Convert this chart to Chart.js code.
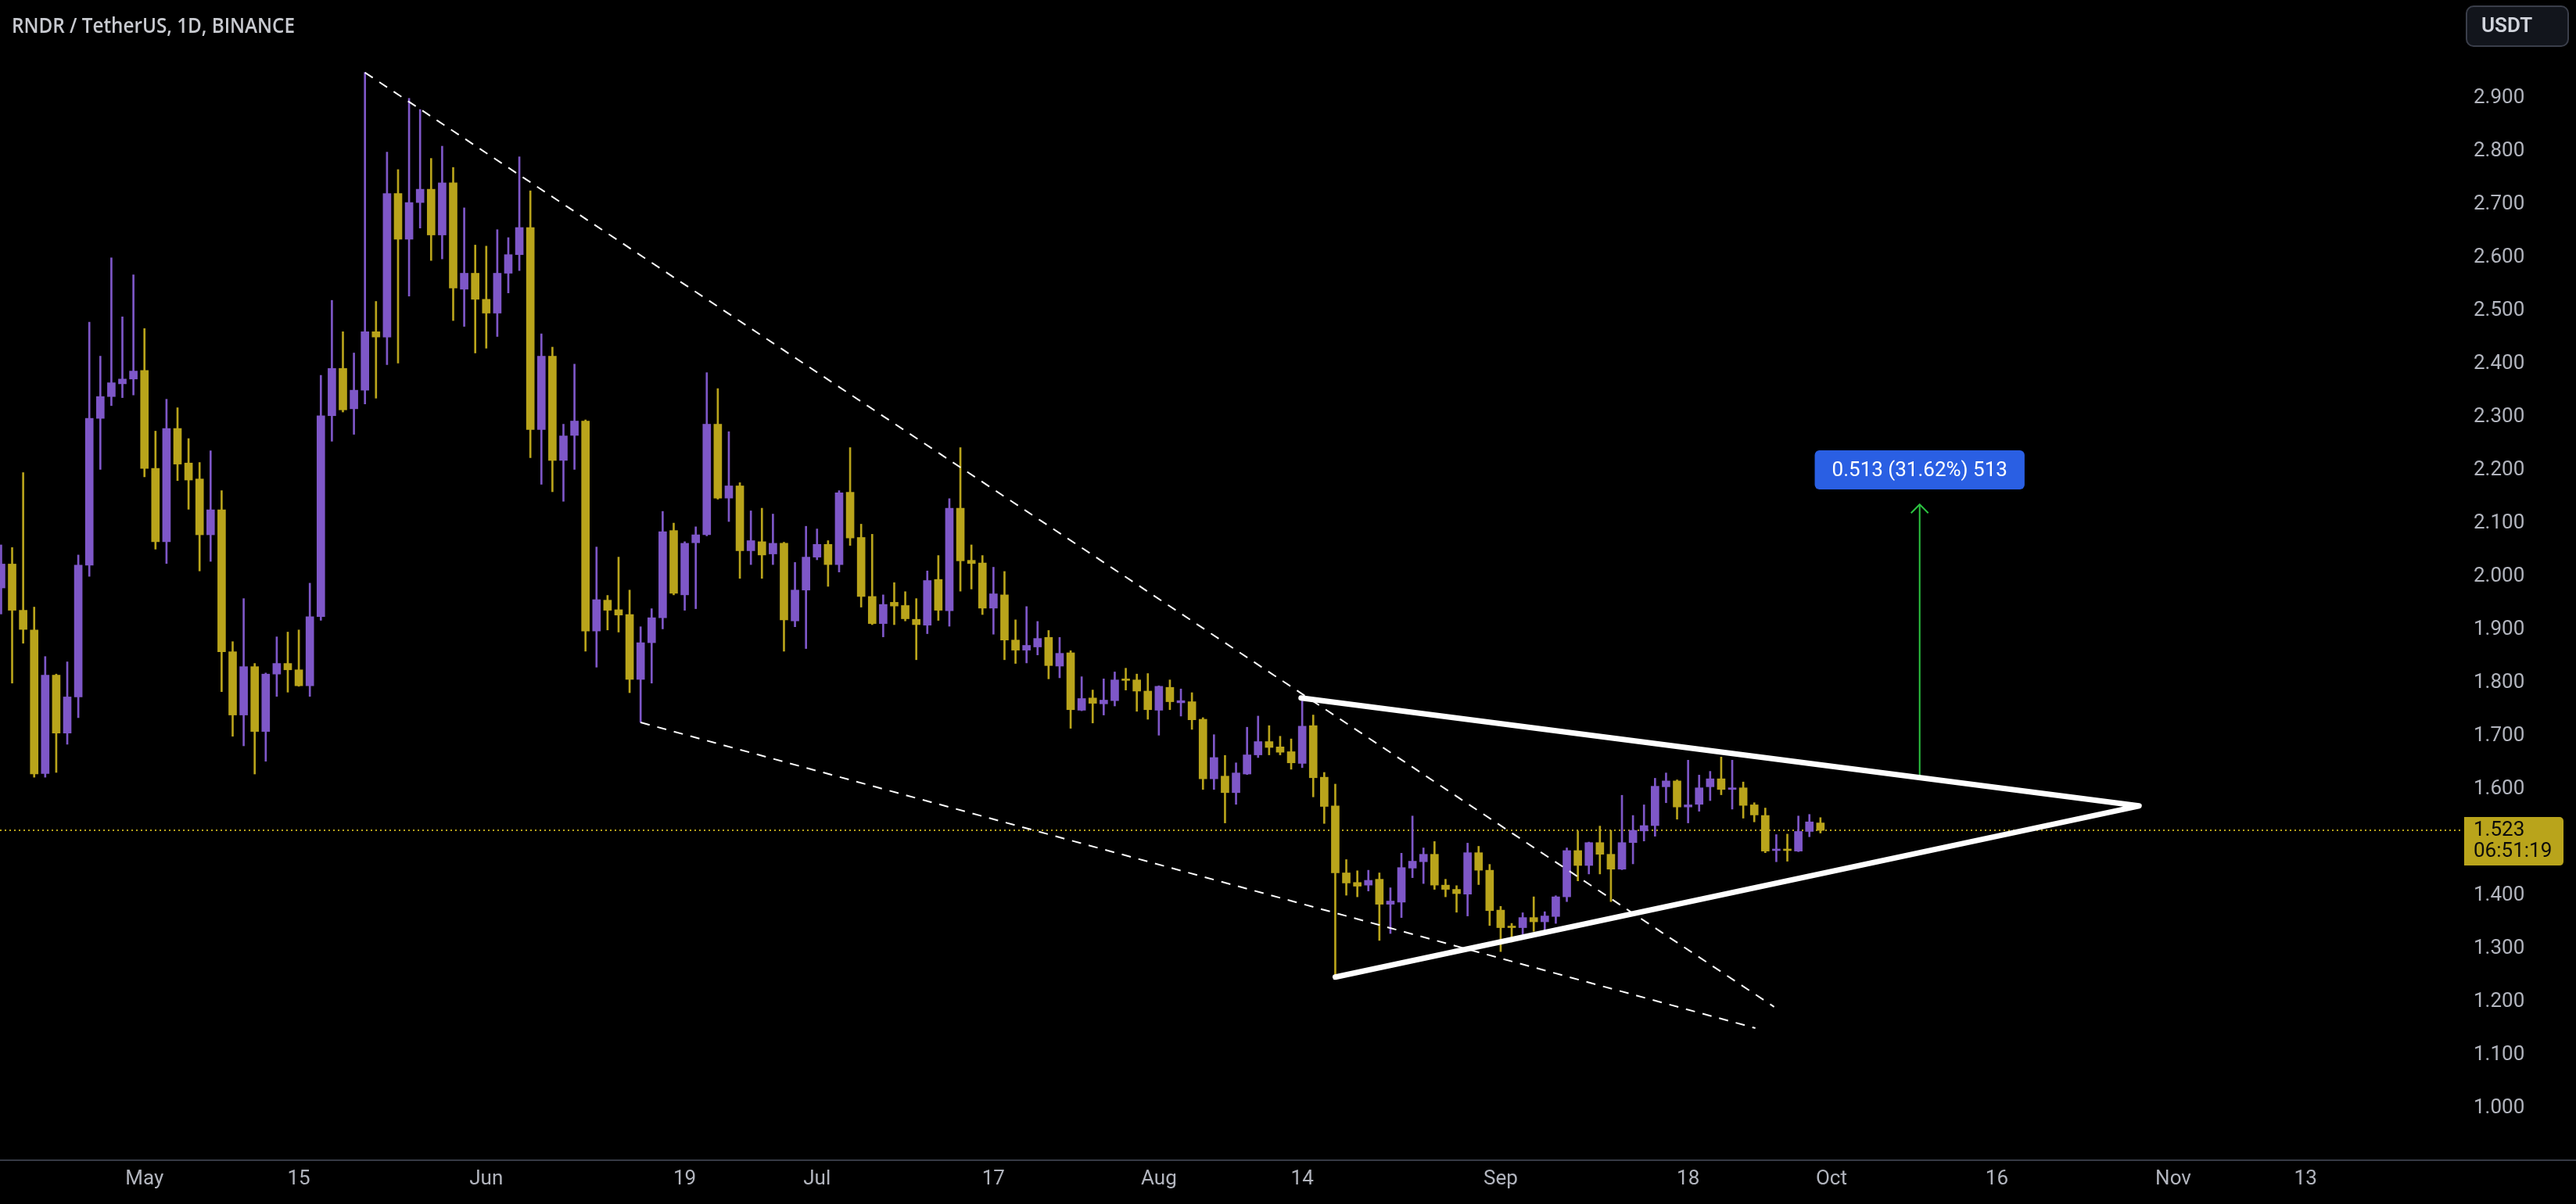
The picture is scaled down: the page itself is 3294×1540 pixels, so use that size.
<!DOCTYPE html>
<html>
<head>
<meta charset="utf-8">
<script src="https://cdn.jsdelivr.net/npm/chart.js@4.4.0/dist/chart.umd.min.js"></script>
<style>
  html, body { margin: 0; padding: 0; background: #000; }
  canvas { display: block; }
</style>
</head>
<body>
<canvas id="chart" width="3294" height="1540"></canvas>
<script>
// day offsets are counted from 1 May; first candle is 18 Apr
const firstDay = -13;

const open = [
  1.979, 2.024, 1.937, 1.900, 1.630, 1.815, 1.706, 1.774, 2.022, 2.298, 2.339, 2.363, 2.372,
  2.388, 2.204, 2.066, 2.279, 2.214, 2.184, 2.079, 2.126, 1.859, 1.740, 1.831, 1.709, 1.817, 1.837, 1.825, 1.795,
  1.925, 2.303, 2.392, 2.316, 2.351, 2.461, 2.451, 2.721, 2.635, 2.704, 2.729, 2.643, 2.741, 2.541, 2.571, 2.522,
  2.496, 2.571, 2.606, 2.657, 2.277, 2.415, 2.219, 2.266, 2.293, 1.898, 1.956, 1.938, 1.929, 1.807, 1.876, 1.923,
  2.087, 1.966, 2.064, 2.079, 2.287, 2.148, 2.171, 2.049, 2.066, 2.043, 2.063, 1.917, 1.975, 2.037, 2.061, 2.023,
  2.159, 2.074, 1.963, 1.912, 1.952, 1.946, 1.920, 1.909, 1.995, 1.936, 2.129, 2.031, 2.026, 1.941, 1.966, 1.881,
  1.862, 1.868, 1.886, 1.832, 1.857, 1.749, 1.772, 1.761, 1.767, 1.807, 1.806, 1.785, 1.749, 1.792, 1.763, 1.765,
  1.732, 1.620, 1.625, 1.594, 1.629, 1.665, 1.690, 1.680, 1.671, 1.649, 1.720, 1.623, 1.569, 1.443, 1.425, 1.420,
  1.431, 1.384, 1.388, 1.452, 1.464, 1.478, 1.420, 1.412, 1.403, 1.481, 1.448, 1.373, 1.343, 1.340, 1.359, 1.351,
  1.361, 1.398, 1.485, 1.457, 1.500, 1.478, 1.450, 1.500, 1.522, 1.532, 1.605, 1.616, 1.567, 1.572, 1.605, 1.620,
  1.600, 1.603, 1.571, 1.551, 1.485, 1.487, 1.484, 1.521, 1.537
];
const high = [
  2.060, 2.055, 2.196, 1.943, 1.850, 1.817, 1.840, 2.041, 2.479, 2.415, 2.600, 2.489, 2.568,
  2.467, 2.274, 2.334, 2.318, 2.260, 2.215, 2.237, 2.162, 1.878, 1.959, 1.837, 1.819, 1.887, 1.896, 1.900, 1.988,
  2.379, 2.520, 2.461, 2.421, 2.949, 2.518, 2.799, 2.766, 2.900, 2.879, 2.787, 2.810, 2.770, 2.694, 2.624, 2.622,
  2.653, 2.638, 2.790, 2.726, 2.457, 2.432, 2.287, 2.400, 2.295, 2.056, 1.965, 2.037, 1.975, 1.906, 1.940, 2.123,
  2.101, 2.066, 2.094, 2.384, 2.354, 2.273, 2.177, 2.124, 2.129, 2.118, 2.065, 2.027, 2.095, 2.090, 2.068, 2.162,
  2.243, 2.099, 2.080, 1.966, 1.989, 1.972, 1.959, 2.011, 2.040, 2.147, 2.243, 2.060, 2.040, 2.018, 2.010, 1.919,
  1.944, 1.916, 1.899, 1.886, 1.861, 1.812, 1.787, 1.808, 1.821, 1.828, 1.817, 1.818, 1.795, 1.806, 1.789, 1.782,
  1.735, 1.703, 1.664, 1.650, 1.717, 1.738, 1.720, 1.700, 1.695, 1.768, 1.740, 1.632, 1.610, 1.468, 1.447, 1.448,
  1.443, 1.415, 1.480, 1.550, 1.490, 1.502, 1.431, 1.419, 1.499, 1.493, 1.459, 1.380, 1.348, 1.368, 1.398, 1.370,
  1.400, 1.490, 1.522, 1.501, 1.531, 1.523, 1.589, 1.551, 1.571, 1.621, 1.631, 1.618, 1.655, 1.627, 1.634, 1.661,
  1.655, 1.614, 1.575, 1.565, 1.515, 1.516, 1.550, 1.553, 1.547
];
const low = [
  1.930, 1.800, 1.875, 1.623, 1.623, 1.632, 1.685, 1.735, 2.001, 2.202, 2.322, 2.337, 2.342,
  2.188, 2.052, 2.025, 2.181, 2.127, 2.011, 2.029, 1.784, 1.700, 1.682, 1.629, 1.653, 1.775, 1.783, 1.794, 1.775,
  1.918, 2.255, 2.310, 2.268, 2.325, 2.336, 2.399, 2.402, 2.528, 2.656, 2.595, 2.598, 2.482, 2.471, 2.421, 2.430,
  2.452, 2.534, 2.576, 2.224, 2.174, 2.160, 2.142, 2.202, 1.860, 1.830, 1.900, 1.896, 1.782, 1.726, 1.800, 1.902,
  1.966, 1.937, 1.940, 2.077, 2.146, 2.104, 1.997, 2.023, 1.997, 2.023, 1.860, 1.906, 1.865, 2.032, 1.982, 2.009,
  2.059, 1.943, 1.910, 1.887, 1.910, 1.917, 1.844, 1.893, 1.918, 1.907, 1.973, 1.977, 1.929, 1.892, 1.844, 1.837,
  1.838, 1.853, 1.808, 1.810, 1.715, 1.748, 1.725, 1.740, 1.757, 1.787, 1.747, 1.732, 1.702, 1.750, 1.738, 1.713,
  1.600, 1.600, 1.537, 1.572, 1.628, 1.660, 1.665, 1.665, 1.638, 1.641, 1.586, 1.536, 1.250, 1.401, 1.398, 1.409,
  1.316, 1.329, 1.359, 1.434, 1.423, 1.412, 1.398, 1.369, 1.362, 1.421, 1.344, 1.295, 1.313, 1.328, 1.333, 1.335,
  1.348, 1.389, 1.428, 1.441, 1.441, 1.389, 1.449, 1.460, 1.503, 1.512, 1.575, 1.544, 1.537, 1.559, 1.579, 1.590,
  1.563, 1.546, 1.539, 1.481, 1.464, 1.465, 1.483, 1.511, 1.518
];
const close = [
  2.024, 1.937, 1.901, 1.629, 1.815, 1.706, 1.774, 2.022, 2.298, 2.339, 2.365, 2.372, 2.387,
  2.204, 2.066, 2.279, 2.212, 2.182, 2.079, 2.126, 1.859, 1.740, 1.831, 1.709, 1.817, 1.837, 1.825, 1.795, 1.925,
  2.303, 2.392, 2.314, 2.351, 2.461, 2.451, 2.721, 2.635, 2.704, 2.729, 2.643, 2.741, 2.543, 2.571, 2.522, 2.496,
  2.571, 2.606, 2.657, 2.277, 2.415, 2.219, 2.265, 2.293, 1.898, 1.957, 1.937, 1.928, 1.807, 1.876, 1.923, 2.085,
  1.969, 2.063, 2.079, 2.287, 2.148, 2.171, 2.049, 2.068, 2.041, 2.063, 1.919, 1.975, 2.037, 2.061, 2.023, 2.158,
  2.073, 1.963, 1.912, 1.948, 1.945, 1.921, 1.910, 1.993, 1.937, 2.129, 2.030, 2.025, 1.941, 1.968, 1.881, 1.862,
  1.871, 1.884, 1.833, 1.856, 1.750, 1.771, 1.762, 1.768, 1.806, 1.805, 1.785, 1.750, 1.794, 1.765, 1.767, 1.731,
  1.620, 1.660, 1.594, 1.631, 1.665, 1.690, 1.679, 1.670, 1.650, 1.719, 1.622, 1.568, 1.443, 1.424, 1.418, 1.429,
  1.384, 1.390, 1.453, 1.465, 1.478, 1.420, 1.412, 1.404, 1.481, 1.448, 1.372, 1.340, 1.340, 1.359, 1.351, 1.362,
  1.398, 1.485, 1.457, 1.500, 1.478, 1.450, 1.500, 1.523, 1.532, 1.606, 1.616, 1.567, 1.571, 1.603, 1.620, 1.600,
  1.603, 1.570, 1.552, 1.484, 1.487, 1.485, 1.521, 1.539, 1.523
];

// time axis labels (day offset from 1 May)
const tickDays = [0, 14, 31, 49, 61, 77, 92, 105, 123, 140, 153, 168, 184, 196];
const tickLabels = ['May', '15', 'Jun', '19', 'Jul', '17', 'Aug', '14', 'Sep', '18', 'Oct', '16', 'Nov', '13'];
const priceTicks = [1.0, 1.1, 1.2, 1.3, 1.4, 1.5, 1.6, 1.7, 1.8, 1.9, 2.0, 2.1, 2.2, 2.3, 2.4, 2.5, 2.6, 2.7, 2.8, 2.9];

// drawings, in (day, price)
const upperTrend = [{x: 20, y: 2.9485}, {x: 147.8, y: 1.191}];
const lowerTrend = [{x: 45, y: 1.726}, {x: 146.1, y: 1.151}];
const triangle = [{x: 104.9, y: 1.772}, {x: 180.9, y: 1.569}, {x: 108, y: 1.247}];
const arrowDay = 161, arrowFrom = 1.623, arrowTo = 2.136;
const measureText = '0.513 (31.62%) 513';
const measurePrice = 2.201;
const lastPrice = 1.523;
const countdown = '06:51:19';

const PURPLE = '#7e57c8';
const YELLOW = '#b9a41b';
const GREEN = '#2cc441';
const BLUE = '#2a5fe3';
const AXIS_TEXT = '#b2b5be';

const days = open.map((_, i) => firstDay + i);
const colors = open.map((o, i) => close[i] >= o ? PURPLE : YELLOW);
const bodies = days.map((d, i) => ({x: d, y: [Math.min(open[i], close[i]), Math.max(open[i], close[i])]}));
const wicks = days.map((d, i) => ({x: d, y: [low[i], high[i]]}));

const xMin = -13.1, xMax = 210.1;

const overlay = {
  id: 'overlay',
  afterDatasetsDraw(chart) {
    const {ctx, scales: {x, y}} = chart;
    ctx.save();
    // arrow head
    const tx = x.getPixelForValue(arrowDay), ty = y.getPixelForValue(arrowTo);
    ctx.strokeStyle = GREEN;
    ctx.lineWidth = 2;
    ctx.beginPath();
    ctx.moveTo(tx - 11, ty + 11);
    ctx.lineTo(tx, ty);
    ctx.lineTo(tx + 11, ty + 11);
    ctx.stroke();
    // measure label
    const ly = y.getPixelForValue(measurePrice);
    ctx.font = '26px Roboto';
    const w = ctx.measureText(measureText).width + 44;
    ctx.fillStyle = BLUE;
    ctx.beginPath();
    ctx.roundRect(tx - w / 2, ly - 25, w, 50, 6);
    ctx.fill();
    ctx.fillStyle = '#fff';
    ctx.textAlign = 'center';
    ctx.textBaseline = 'middle';
    ctx.fillText(measureText, tx, ly + 1);
    ctx.restore();
  },
  afterDraw(chart) {
    const {ctx, scales: {y}} = chart;
    ctx.save();
    // bottom border across whole width
    ctx.strokeStyle = '#363a45';
    ctx.lineWidth = 2;
    ctx.beginPath();
    ctx.moveTo(0, 1484);
    ctx.lineTo(3294, 1484);
    ctx.stroke();

    // title
    const title = 'RNDR / TetherUS, 1D, BINANCE';
    ctx.font = '600 27px "Open Sans"';
    ctx.fillStyle = '#c8cad0';
    ctx.textBaseline = 'alphabetic';
    ctx.textAlign = 'left';
    const tw = ctx.measureText(title).width;
    ctx.translate(15, 42);
    ctx.scale(362 / tw, 1);
    ctx.fillText(title, 0, 0);
    ctx.setTransform(1, 0, 0, 1, 0, 0);

    // currency button
    ctx.fillStyle = '#12151c';
    ctx.strokeStyle = '#3a3e4a';
    ctx.lineWidth = 2;
    ctx.beginPath();
    ctx.roundRect(3154, 8, 130, 51, 9);
    ctx.fill();
    ctx.stroke();
    ctx.fillStyle = '#d1d4dc';
    ctx.font = '600 26px Roboto';
    ctx.textBaseline = 'middle';
    ctx.fillText('USDT', 3173, 34);

    // last price tag
    const py = y.getPixelForValue(lastPrice);
    ctx.fillStyle = YELLOW;
    ctx.beginPath();
    ctx.roundRect(3151, py - 17, 127, 62, [0, 5, 5, 0]);
    ctx.fill();
    ctx.fillStyle = '#0b0b0b';
    ctx.font = '26px Roboto';
    ctx.textBaseline = 'middle';
    ctx.fillText(lastPrice.toFixed(3), 3163, py);
    ctx.fillText(countdown, 3163, py + 27);
    ctx.restore();
  }
};

new Chart(document.getElementById('chart'), {
  type: 'bar',
  data: {
    datasets: [
      {type: 'line', data: triangle, borderColor: '#ffffff', borderWidth: 7, borderCapStyle: 'round',
        borderJoinStyle: 'round', pointRadius: 0, order: 0},
      {type: 'line', data: upperTrend, borderColor: '#ffffff', borderWidth: 2, borderDash: [12, 10],
        pointRadius: 0, order: 1},
      {type: 'line', data: lowerTrend, borderColor: '#ffffff', borderWidth: 2, borderDash: [12, 10],
        pointRadius: 0, order: 1},
      {type: 'line', data: [{x: arrowDay, y: arrowFrom}, {x: arrowDay, y: arrowTo}], borderColor: GREEN,
        borderWidth: 2, pointRadius: 0, order: 1},
      {data: bodies, backgroundColor: colors, barThickness: 10, minBarLength: 2, grouped: false, order: 3},
      {data: wicks, backgroundColor: colors, barThickness: 2, grouped: false, order: 4},
      {type: 'line', data: [{x: xMin, y: lastPrice}, {x: xMax, y: lastPrice}], borderColor: YELLOW,
        borderWidth: 2, borderDash: [2, 4], pointRadius: 0, order: 5}
    ]
  },
  options: {
    responsive: false,
    animation: false,
    devicePixelRatio: 1,
    layout: {padding: 0},
    plugins: {legend: {display: false}, tooltip: {enabled: false}},
    scales: {
      x: {
        type: 'linear',
        position: 'bottom',
        offset: false,
        min: xMin,
        max: xMax,
        grid: {display: false, drawTicks: false, offset: false},
        border: {display: false},
        afterBuildTicks: s => { s.ticks = tickDays.map(v => ({value: v})); },
        afterFit: s => { s.height = 57; s.paddingLeft = 0; s.paddingRight = 0; },
        ticks: {
          autoSkip: false,
          maxRotation: 0,
          padding: 10,
          color: AXIS_TEXT,
          font: {family: 'Roboto', size: 26},
          callback: v => {
            const k = tickDays.indexOf(v);
            return k >= 0 ? tickLabels[k] : '';
          }
        }
      },
      y: {
        type: 'linear',
        position: 'right',
        min: 0.904,
        max: 3.085,
        grid: {display: false, drawTicks: false},
        border: {display: false},
        afterBuildTicks: s => { s.ticks = priceTicks.map(v => ({value: v})); },
        afterFit: s => { s.width = 147; s.paddingTop = 0; s.paddingBottom = 0; },
        ticks: {
          padding: 16,
          color: AXIS_TEXT,
          font: {family: 'Roboto', size: 26},
          callback: v => v.toFixed(3)
        }
      }
    }
  },
  plugins: [overlay]
});
</script>
</body>
</html>
